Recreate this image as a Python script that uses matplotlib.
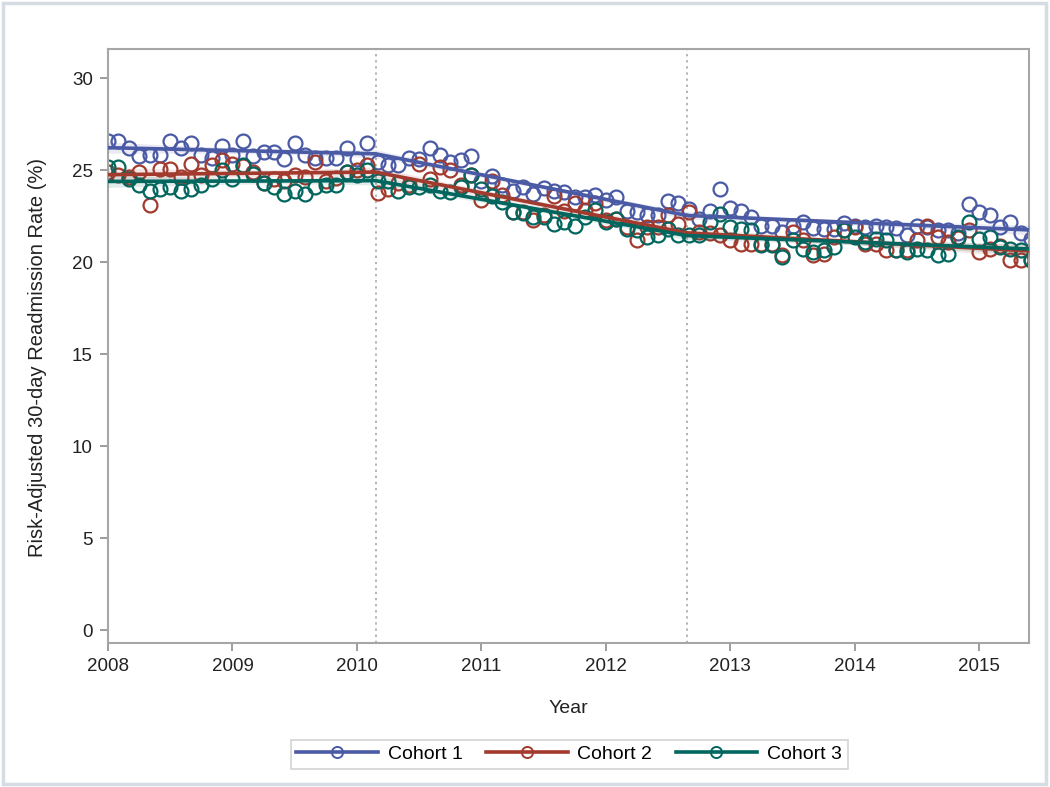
import numpy as np
import matplotlib
matplotlib.use('Agg')
import matplotlib.pyplot as plt
from matplotlib.patches import Rectangle
from matplotlib.lines import Line2D

plt.rcParams['font.family'] = ['Liberation Sans', 'DejaVu Sans']

# monthly readmission rates, Jan 2008 onward
start_year = 2008
cohort1 = [26.6, 26.6, 26.2, 25.8, 25.85, 25.85, 26.6, 26.2, 26.5, 25.85,
           25.7, 26.3, 25.85, 26.6, 25.8, 26.0, 26.0, 25.6, 26.5, 25.85,
           25.7, 25.7, 25.7, 26.2, 25.6, 26.5, 25.45, 25.3, 25.3, 25.7,
           25.6, 26.2, 25.85, 25.45, 25.55, 25.8, 24.4, 24.7, 24.2, 23.86,
           24.1, 23.73, 24.04, 23.9, 23.8, 23.55, 23.55, 23.64, 23.37, 23.55,
           22.78, 22.74, 22.55, 22.6, 23.33, 23.22, 22.92, 22.37, 22.78, 24.0,
           22.97, 22.78, 22.46, 22.0, 22.0, 21.65, 22.0, 22.19, 21.88, 21.8,
           21.83, 22.14, 22.0, 21.92, 22.0, 21.92, 21.88, 21.47, 22.0, 21.9,
           21.74, 21.74, 21.6, 23.19, 22.74, 22.55, 21.92, 22.19, 21.6, 21.29]
cohort2 = [24.9, 24.75, 24.65, 24.9, 23.13, 25.1, 25.1, 24.65, 25.35, 24.75,
           25.3, 25.55, 25.35, 25.25, 24.9, 24.3, 24.55, 24.4, 24.75, 24.65,
           25.45, 24.4, 24.6, 24.9, 25.0, 25.3, 23.75, 24.0, 24.3, 24.2,
           25.35, 24.55, 25.2, 25.0, 24.2, 24.75, 23.4, 24.4, 23.65, 22.75,
           22.75, 22.3, 22.6, 23.6, 22.8, 23.2, 22.83, 23.2, 22.3, 22.37,
           21.92, 21.2, 21.92, 21.9, 22.55, 22.1, 22.74, 21.65, 21.6, 21.5,
           21.2, 21.0, 21.0, 21.0, 21.0, 20.4, 21.65, 21.2, 20.38, 20.47,
           21.38, 21.74, 21.92, 21.0, 21.0, 20.65, 20.65, 20.65, 21.2, 22.0,
           21.38, 21.1, 21.3, 21.74, 20.56, 20.74, 20.9, 20.11, 20.11, 20.11]
cohort3 = [25.2, 25.2, 24.55, 24.2, 23.9, 24.0, 24.1, 23.9, 24.0, 24.2,
           24.55, 25.0, 24.55, 25.3, 24.8, 24.3, 24.1, 23.73, 23.9, 23.73,
           24.1, 24.2, 24.2, 24.9, 24.75, 25.0, 24.4, 24.4, 23.9, 24.1,
           24.1, 24.2, 23.9, 23.85, 24.1, 24.75, 24.0, 23.6, 23.3, 22.73,
           22.7, 22.45, 22.45, 22.1, 22.19, 22.0, 22.46, 22.83, 22.19, 22.37,
           21.83, 21.74, 21.38, 21.5, 21.83, 21.47, 21.47, 21.47, 22.19, 22.64,
           21.92, 21.83, 21.74, 20.92, 20.92, 20.29, 21.2, 20.74, 20.56, 20.65,
           20.83, 21.74, 21.38, 21.1, 21.29, 21.2, 20.65, 20.56, 20.74, 20.65,
           20.38, 20.47, 21.38, 22.19, 21.29, 21.38, 20.83, 20.74, 20.65, 20.11]
labels = ['Cohort 1', 'Cohort 2', 'Cohort 3']
colors = ['#4A5AA4', '#A23A2E', '#01665E']
knots = [2010.15, 2012.65]   # policy change dates (dotted lines)

t = start_year + np.arange(len(cohort1)) / 12.0


def segmented_fit(t, y, knots):
    # continuous piecewise linear regression with hinge terms
    def design(x):
        cols = [np.ones_like(x), x] + [np.clip(x - k, 0, None) for k in knots]
        return np.column_stack(cols)
    X = design(t)
    beta = np.linalg.lstsq(X, y, rcond=None)[0]
    resid = y - X @ beta
    s2 = resid @ resid / (len(y) - X.shape[1])
    cov = s2 * np.linalg.inv(X.T @ X)
    tt = np.linspace(t.min(), t.max(), 400)
    Xt = design(tt)
    yhat = Xt @ beta
    se = np.sqrt(np.einsum('ij,jk,ik->i', Xt, cov, Xt))
    return tt, yhat, yhat - 1.96 * se, yhat + 1.96 * se


fig = plt.figure(figsize=(10.5, 7.87), dpi=100)
ax = fig.add_axes([0.1029, 0.183, 0.8771, 0.7547])

for y, c, lab in zip([cohort1, cohort2, cohort3], colors, labels):
    y = np.array(y)
    ax.plot(t, y, 'o', mfc='none', mec=c, mew=1.6, ms=10, zorder=2)
    tt, yhat, lo, hi = segmented_fit(t, y, knots)
    ax.fill_between(tt, lo, hi, color=c, alpha=0.12, lw=0, zorder=3)
    ax.plot(tt, yhat, color=c, lw=2.6, zorder=4)

for k in knots:
    ax.axvline(k, color='#A0A0A0', ls=(0, (1.5, 2.5)), lw=1.1, zorder=1)

ax.set_xlim(2008, 2015.4)
ax.set_ylim(-0.7, 31.6)
ax.set_xticks(range(2008, 2016))
ax.set_yticks(range(0, 31, 5))
ax.tick_params(colors='#8C8C8C', labelcolor='#222222', labelsize=13.5,
               length=6, width=1.2)
ax.tick_params(axis='y', pad=5)
ax.tick_params(axis='x', pad=5)
for s in ax.spines.values():
    s.set_color('#A6A6A6')
    s.set_linewidth(1.5)

ax.set_xlabel('Year', fontsize=14, color='#222222', labelpad=18)
ax.set_ylabel('Risk-Adjusted 30-day Readmission Rate (%)', fontsize=14.5,
              color='#222222')
ax.yaxis.set_label_coords(-0.066, 0.48)

handles = [Line2D([], [], color=c, lw=2.6, marker='o', mfc='none', mec=c,
                  mew=1.4, ms=8) for c in colors]
leg = fig.legend(handles, labels, loc='center', bbox_to_anchor=(0.542, 0.0415),
                 ncol=3, fontsize=14, frameon=True, fancybox=False,
                 handlelength=4.2, columnspacing=1.2, handletextpad=0.5,
                 borderpad=0.3)
leg.get_frame().set_edgecolor('#C8C8C8')
leg.get_frame().set_linewidth(1.2)

fig.patches.append(Rectangle((0.003, 0.004), 0.993, 0.992, transform=fig.transFigure,
                             fill=False, edgecolor='#D5DCE4', lw=2.5))

fig.savefig('out.png', dpi=100)
